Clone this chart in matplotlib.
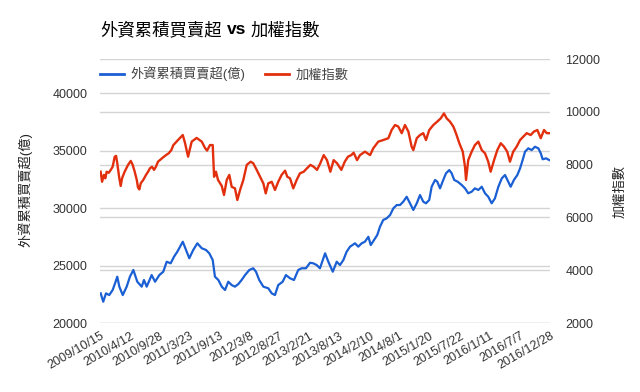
import matplotlib
matplotlib.use("Agg")
import matplotlib.pyplot as plt
import matplotlib.transforms as mtransforms
from matplotlib.lines import Line2D
import pandas as pd

# --- data ---
blue_label = "外資累積買賣超(億)"
red_label = "加權指數"

blue_dates = [
    "2009-10-19", "2009-11-03", "2009-11-19", "2009-12-08", "2009-12-28",
    "2010-01-11", "2010-01-24", "2010-02-05", "2010-02-25", "2010-03-20", "2010-04-08",
    "2010-04-28", "2010-05-21", "2010-06-16", "2010-06-29", "2010-07-15", "2010-08-13",
    "2010-09-02", "2010-09-27", "2010-10-20", "2010-11-09", "2010-12-02", "2010-12-22",
    "2011-01-10", "2011-02-11", "2011-03-02", "2011-03-21", "2011-04-13", "2011-05-07",
    "2011-06-02", "2011-06-27", "2011-07-16", "2011-08-05", "2011-08-18", "2011-09-07",
    "2011-09-27", "2011-10-16", "2011-11-04", "2011-11-24", "2011-12-13",
    "2012-01-02", "2012-01-21", "2012-02-10", "2012-03-06", "2012-03-29", "2012-04-14",
    "2012-05-03", "2012-05-27", "2012-06-25", "2012-07-15", "2012-08-03", "2012-08-22",
    "2012-09-17", "2012-10-06", "2012-10-30", "2012-11-22", "2012-12-17",
    "2013-01-06", "2013-01-31", "2013-02-24", "2013-03-15", "2013-04-04", "2013-04-23",
    "2013-05-23", "2013-06-11", "2013-07-07", "2013-07-30", "2013-08-18", "2013-09-07",
    "2013-09-26", "2013-10-16", "2013-11-14", "2013-12-03", "2013-12-23",
    "2014-01-11", "2014-01-31", "2014-02-14", "2014-03-05", "2014-03-24", "2014-04-09",
    "2014-04-28", "2014-05-18", "2014-06-07", "2014-06-26", "2014-07-16", "2014-08-04",
    "2014-08-23", "2014-09-12", "2014-10-01", "2014-10-21", "2014-11-10", "2014-11-29",
    "2014-12-18",
    "2015-01-03", "2015-01-22", "2015-02-05", "2015-02-25", "2015-03-10", "2015-03-26",
    "2015-04-14", "2015-04-30", "2015-05-19", "2015-06-02", "2015-06-17", "2015-07-07",
    "2015-07-31", "2015-08-19", "2015-09-07", "2015-09-27", "2015-10-16", "2015-11-05",
    "2015-11-25", "2015-12-14",
    "2016-01-02", "2016-01-22", "2016-02-10", "2016-03-01", "2016-03-21", "2016-04-09",
    "2016-04-28", "2016-05-12", "2016-05-31", "2016-06-20", "2016-07-06", "2016-07-21",
    "2016-08-04", "2016-08-23", "2016-09-12", "2016-10-01", "2016-10-21", "2016-11-04",
    "2016-11-15", "2016-12-05", "2016-12-24",
]
blue_values = [
    22580, 21850, 22580, 22430, 22870,
    23450, 24030, 23160, 22430, 23160, 24030,
    24610, 23590, 23160, 23740, 23160, 24170,
    23590, 24170, 24460, 25330, 25190, 25770,
    26200, 27070, 26350, 25630, 26350, 26930,
    26500, 26350, 26060, 25480, 24030, 23740,
    23160, 22870, 23590, 23300, 23160,
    23390, 23740, 24170, 24610, 24760, 24460,
    23740, 23160, 23020, 22580, 22430, 23300,
    23590, 24170, 23890, 23740, 24610,
    24760, 24760, 25240, 25190, 25040, 24760,
    26060, 25330, 24460, 25330, 25040, 25480,
    26200, 26640, 26930, 26640, 26930,
    27070, 27500, 26780, 27220, 27650, 28370,
    28960, 29100, 29390, 29970, 30260, 30260,
    30550, 30980, 30410, 29830, 30410, 31130,
    30550,
    30410, 30700, 31850, 32440, 32290, 31710,
    32440, 33020, 33300, 33020, 32440, 32290,
    32000, 31710, 31280, 31420, 31710, 31570,
    31850, 31280,
    30980, 30410, 30840, 31850, 32580, 32870,
    32290, 31850, 32440, 32870, 33450, 34170,
    34900, 35190, 35040, 35330, 35190, 34760,
    34240, 34320, 34170,
]

red_dates = [
    "2009-10-19", "2009-10-27", "2009-11-07", "2009-11-15", "2009-11-23", "2009-12-05",
    "2009-12-17", "2009-12-28",
    "2010-01-09", "2010-01-17", "2010-01-24", "2010-02-05", "2010-02-13", "2010-02-21",
    "2010-03-08", "2010-03-28", "2010-04-13", "2010-04-24", "2010-05-06", "2010-05-18",
    "2010-05-25", "2010-06-02", "2010-06-10", "2010-06-25", "2010-07-11", "2010-07-23",
    "2010-08-03", "2010-08-15", "2010-08-27", "2010-09-07", "2010-09-19", "2010-10-05",
    "2010-10-20", "2010-11-05", "2010-11-21", "2010-12-06", "2010-12-18",
    "2011-01-14", "2011-02-11", "2011-02-24", "2011-03-14", "2011-04-04", "2011-05-03",
    "2011-06-02", "2011-06-21", "2011-07-03", "2011-07-20", "2011-08-05", "2011-08-13",
    "2011-08-24", "2011-09-05", "2011-09-27", "2011-10-10", "2011-10-26", "2011-11-10",
    "2011-11-24", "2011-12-13", "2011-12-27",
    "2012-01-12", "2012-01-31", "2012-02-20", "2012-03-14", "2012-03-29", "2012-04-18",
    "2012-05-08", "2012-05-27", "2012-06-10", "2012-06-25", "2012-07-15", "2012-08-03",
    "2012-08-22", "2012-09-11", "2012-10-01", "2012-10-14", "2012-10-30", "2012-11-18",
    "2012-12-08", "2012-12-27",
    "2013-01-18", "2013-02-06", "2013-02-26", "2013-03-17", "2013-04-06", "2013-04-25",
    "2013-05-15", "2013-06-03", "2013-06-23", "2013-07-12", "2013-08-01", "2013-08-26",
    "2013-09-15", "2013-10-04", "2013-10-23", "2013-11-06", "2013-11-26", "2013-12-13",
    "2014-01-11", "2014-02-10", "2014-03-01", "2014-03-30", "2014-04-28", "2014-05-28",
    "2014-06-16", "2014-07-06", "2014-07-25", "2014-08-14", "2014-09-02", "2014-09-22",
    "2014-10-11", "2014-10-21", "2014-11-10", "2014-11-29", "2014-12-18",
    "2015-01-03", "2015-01-22", "2015-02-15", "2015-03-10", "2015-03-30", "2015-04-18",
    "2015-05-04", "2015-05-23", "2015-06-12", "2015-06-27", "2015-07-17", "2015-08-06",
    "2015-08-19", "2015-08-25", "2015-09-07", "2015-09-27", "2015-10-16", "2015-11-05",
    "2015-11-25", "2015-12-14",
    "2016-01-02", "2016-01-16", "2016-02-05", "2016-02-24", "2016-03-15", "2016-04-03",
    "2016-04-22", "2016-05-08", "2016-05-27", "2016-06-16", "2016-07-06", "2016-07-25",
    "2016-08-14", "2016-09-06", "2016-09-25", "2016-10-15", "2016-11-04", "2016-11-23",
    "2016-12-09", "2016-12-24",
]
red_values = [
    7730, 7350, 7610, 7480, 7730, 7690, 7800, 7920,
    8300, 8330, 8050, 7480, 7190, 7480, 7730, 7990,
    8140, 7990, 7730, 7420, 7140, 7060, 7290, 7420,
    7610, 7730, 7860, 7920, 7800, 7920, 8110, 8200,
    8280, 8360, 8430, 8550, 8740,
    8930, 9120, 8820, 8300, 8870, 9010, 8870, 8630, 8530, 8740, 8740,
    7540, 7730, 7420, 7190, 6850, 7420, 7610, 7160, 7100, 6660,
    7040, 7420, 7990, 8110, 8050, 7800, 7540, 7290, 6910, 7290,
    7350, 7040, 7350, 7610, 7770, 7540, 7480, 7100, 7420, 7670,
    7730, 7860, 7990, 7920, 7800, 8050, 8360, 8170, 7730, 8170,
    8050, 7800, 8110, 8300, 8360, 8450, 8170, 8360,
    8490, 8360, 8620, 8870, 8930, 9000, 9310, 9500, 9440, 9190,
    9500, 9250, 8680, 8550, 9000, 9120, 9190,
    8930, 9310, 9500, 9630, 9750, 9940, 9750, 9630, 9440, 9190,
    8810, 8490, 7920, 7420, 8170, 8490, 8740, 8870, 8550, 8430,
    8110, 7730, 8170, 8550, 8810, 8680, 8490, 8110, 8490, 8680,
    8930, 9060, 9190, 9120, 9250, 9310, 9000, 9310, 9190, 9190,
]

x_tick_labels = [
    "2009/10/15", "2010/4/12", "2010/9/28", "2011/3/23", "2011/9/13", "2012/3/8",
    "2012/8/27", "2013/2/21", "2013/8/13", "2014/2/10", "2014/8/1", "2015/1/20",
    "2015/7/22", "2016/1/11", "2016/7/7", "2016/12/28",
]
left_ticks = [20000, 25000, 30000, 35000, 40000]
right_ticks = [2000, 4000, 6000, 8000, 10000, 12000]

BLUE = "#1a5fd3"
RED = "#e2300e"
GRID = "#d4d4d4"
TXT = "#333333"
FONT = ["Liberation Sans", "Noto Sans CJK TC"]
plt.rcParams["font.family"] = FONT

W, H = 640, 392
fig = plt.figure(figsize=(W / 100, H / 100), dpi=100)
L, R, T, B = 100, 550, 59, 323
ax = fig.add_axes([L / W, 1 - B / H, (R - L) / W, (B - T) / H])
ax2 = ax.twinx()

bx = pd.to_datetime(blue_dates)
rx = pd.to_datetime(red_dates)
ax.plot(bx, blue_values, color=BLUE, lw=1.6, zorder=3, solid_joinstyle="round")
ax2.plot(rx, red_values, color=RED, lw=1.7, zorder=3, solid_joinstyle="round")

# gridlines for both scales live in the bottom axes
ax.grid(axis="y", color=GRID, lw=1)
ax.set_axisbelow(True)
trans = mtransforms.blended_transform_factory(ax.transAxes, ax2.transData)
for v in right_ticks:
    ax.add_line(Line2D([0, 1], [v, v], transform=trans, color=GRID, lw=1, zorder=0.5))

tick_dates = pd.to_datetime(x_tick_labels, format="%Y/%m/%d")
ax.set_xlim(pd.Timestamp("2009-10-15"), pd.Timestamp("2016-12-28"))
ax.set_ylim(20000, 42960)
ax2.set_ylim(2000, 12000)
ax.set_yticks(left_ticks)
ax2.set_yticks(right_ticks)
ax.set_xticks(tick_dates)
ax.set_xticklabels(x_tick_labels, rotation=30, ha="right", rotation_mode="anchor")

for a in (ax, ax2):
    for s in a.spines.values():
        s.set_visible(False)
    a.tick_params(length=0, labelsize=9, labelcolor=TXT)
ax.tick_params(axis="y", pad=9)
ax2.tick_params(axis="y", pad=11)
ax.tick_params(axis="x", pad=5)

# axis titles
fig.text(25 / W, 1 - 190 / H, blue_label, rotation=90, ha="center", va="center",
         fontsize=9.5, color="#222222")
fig.text(620 / W, 1 - 192 / H, red_label, rotation=90, ha="center", va="center",
         fontsize=9.5, color="#222222")

# title: regular CJK with bold "vs"
renderer = fig.canvas.get_renderer()
x = L / W
for s, w in [("外資累積買賣超", "normal"), ("vs", "bold"), ("加權指數", "normal")]:
    t = fig.text(x, 1 - 30 / H, s, fontsize=12.5, fontweight=w, ha="left", va="center",
                 color="#000000")
    bb = t.get_window_extent(renderer)
    x = (bb.x1 + 5) / W

handles = [Line2D([], [], color=BLUE, lw=2), Line2D([], [], color=RED, lw=2)]
fig.legend(handles, [blue_label, red_label], loc="center left",
           bbox_to_anchor=(L / W, 1 - 74 / H), ncol=2, frameon=False, fontsize=9.5,
           handlelength=1.85, handletextpad=0.45, columnspacing=1.5, borderpad=0,
           borderaxespad=0, labelcolor="#444444")

fig.savefig("out.png", dpi=100)
